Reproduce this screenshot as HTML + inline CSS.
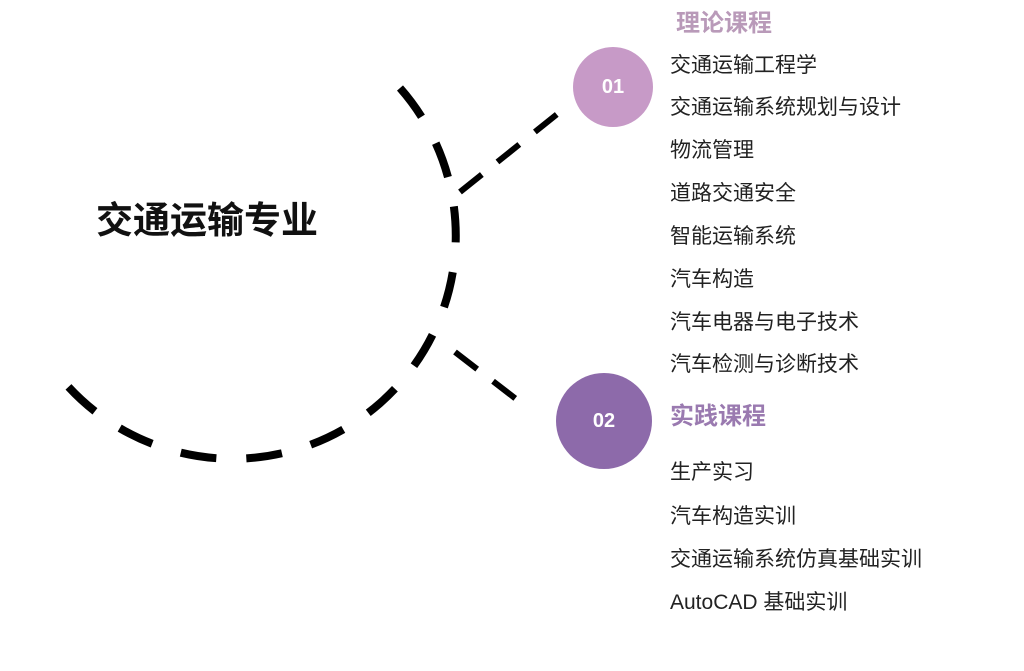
<!DOCTYPE html>
<html><head><meta charset="utf-8"><style>
body{margin:0;width:1024px;height:671px;background:#fff;position:relative;overflow:hidden;font-family:"Liberation Sans","Noto Sans CJK SC",sans-serif}
.t{position:absolute;left:670px;font-size:21px;color:#222;line-height:26px;white-space:nowrap}
.h{position:absolute;font-size:24px;font-weight:bold;line-height:28px;white-space:nowrap}
.c{position:absolute;border-radius:50%;color:#fff;font-weight:bold;font-size:20px;display:flex;align-items:center;justify-content:center}
</style></head><body>
<svg width="1024" height="671" style="position:absolute;left:0;top:0">
<path d="M400 88 A222 222 0 1 1 65 383" fill="none" stroke="#000" stroke-width="8" stroke-dasharray="36 30"/>
<line x1="460" y1="192" x2="566" y2="107" stroke="#000" stroke-width="6" stroke-dasharray="28 20"/>
<line x1="455" y1="352" x2="520" y2="402" stroke="#000" stroke-width="6" stroke-dasharray="28 20"/>
</svg>
<div class="h" style="left:96px;top:200px;font-size:37px;line-height:42px;color:#111">交通运输专业</div>
<div class="c" style="left:573px;top:47px;width:80px;height:80px;background:#c79ac7">01</div>
<div class="c" style="left:556px;top:373px;width:96px;height:96px;background:#8d6aaa">02</div>
<div class="h" style="left:676px;top:10px;color:#b99ab9">理论课程</div>
<div class="t" style="top:53px">交通运输工程学</div>
<div class="t" style="top:95px">交通运输系统规划与设计</div>
<div class="t" style="top:138px">物流管理</div>
<div class="t" style="top:181px">道路交通安全</div>
<div class="t" style="top:224px">智能运输系统</div>
<div class="t" style="top:267px">汽车构造</div>
<div class="t" style="top:310px">汽车电器与电子技术</div>
<div class="t" style="top:352px">汽车检测与诊断技术</div>
<div class="h" style="left:670px;top:403px;color:#9a7ab0">实践课程</div>
<div class="t" style="top:460px">生产实习</div>
<div class="t" style="top:504px">汽车构造实训</div>
<div class="t" style="top:547px">交通运输系统仿真基础实训</div>
<div class="t" style="top:590px">AutoCAD 基础实训</div>
</body></html>
